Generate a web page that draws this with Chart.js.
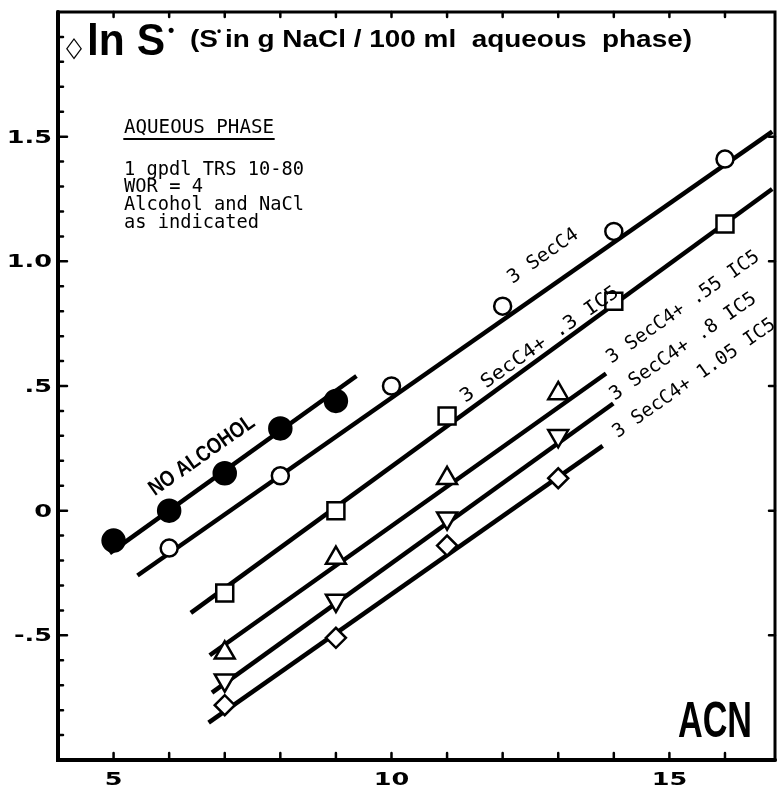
<!DOCTYPE html>
<html>
<head>
<meta charset="utf-8">
<script src="https://cdn.jsdelivr.net/npm/chart.js@4.4.1/dist/chart.umd.min.js"></script>
<style>
  html, body { margin: 0; padding: 0; background: #fff; }
  #wrap { width: 777px; height: 787px; }
</style>
</head>
<body>
<div id="wrap"><canvas id="chart" width="777" height="787"></canvas></div>
<script>
// ln S* against ACN
const acnNoAlc = [5, 6, 7, 8, 9];
const lnNoAlc = [-0.12, 0.0, 0.15, 0.33, 0.44];

const acnSec = [6, 8, 10, 12, 14, 16];
const lnSec = [-0.15, 0.14, 0.50, 0.82, 1.12, 1.41];

const acnIc03 = [7, 9, 11, 14, 16];
const lnIc03 = [-0.33, 0.0, 0.38, 0.84, 1.15];

const acnIc055 = [7, 9, 11, 13];
const lnIc055 = [-0.57, -0.19, 0.13, 0.47];

const acnIc08 = [7, 9, 11, 13];
const lnIc08 = [-0.68, -0.36, -0.03, 0.30];

const acnIc105 = [7, 9, 11, 13];
const lnIc105 = [-0.78, -0.51, -0.14, 0.13];

// fitted straight lines: [start, end]
const fitNoAlcX = [4.93, 9.37], fitNoAlcY = [-0.17, 0.54];
const fitSecX = [5.43, 16.85], fitSecY = [-0.26, 1.52];
const fitIc03X = [6.39, 16.85], fitIc03Y = [-0.41, 1.29];
const fitIc055X = [6.73, 13.86], fitIc055Y = [-0.58, 0.55];
const fitIc08X = [6.77, 13.99], fitIc08Y = [-0.73, 0.43];
const fitIc105X = [6.71, 13.8], fitIc105Y = [-0.85, 0.26];

const xTickValues = [5, 10, 15];
const yTickValues = [-0.5, 0, 0.5, 1.0, 1.5];
const yTickLabels = ['-.5', '0', '.5', '1.0', '1.5'];

const pts = (xs, ys) => xs.map((x, i) => ({ x: x, y: ys[i] }));

function markers(xs, ys, style, radius, fill, rotation) {
    return {
        type: 'scatter',
        data: pts(xs, ys),
        pointStyle: style,
        pointRadius: radius,
        pointHoverRadius: radius,
        pointRotation: rotation || 0,
        pointBackgroundColor: fill,
        pointBorderColor: '#000',
        pointBorderWidth: 2.5,
        order: 0
    };
}

function fitLine(xs, ys) {
    return {
        type: 'line',
        data: pts(xs, ys),
        borderColor: '#000',
        borderWidth: 4.5,
        pointRadius: 0,
        fill: false,
        order: 1
    };
}

// text labels along the lines, anchored in data units
const lineNotes = [
    { text: 'NO ALCOHOL', x: 6.59, y: 0.22, w: 124, font: 'bold 22px "Liberation Sans"' },
    { text: '3 SecC4', x: 12.73, y: 1.02, w: 82, font: '19px "DejaVu Sans Mono"' },
    { text: '3 SecC4+ .3 IC5', x: 12.67, y: 0.665, w: 189, font: '19px "DejaVu Sans Mono"' },
    { text: '3 SecC4+ .55 IC5', x: 15.25, y: 0.815, w: 182, font: '19px "DejaVu Sans Mono"' },
    { text: '3 SecC4+ .8 IC5', x: 15.25, y: 0.657, w: 174, font: '19px "DejaVu Sans Mono"' },
    { text: '3 SecC4+ 1.05 IC5', x: 15.45, y: 0.53, w: 194, font: '19px "DejaVu Sans Mono"' }
];

// draw text squeezed or stretched to a given width (null keeps natural width)
function fitText(ctx, text, x, y, width, font, angle) {
    ctx.save();
    ctx.font = font;
    const w = ctx.measureText(text).width;
    ctx.translate(x, y);
    if (angle) ctx.rotate(angle * Math.PI / 180);
    if (width) ctx.scale(width / w, 1);
    ctx.fillText(text, 0, 0);
    ctx.restore();
}

function stretchText(ctx, text, x, y, k, font) {
    ctx.save();
    ctx.font = font;
    ctx.translate(x, y);
    ctx.scale(k, 1);
    ctx.fillText(text, 0, 0);
    ctx.restore();
}

const framePlugin = {
    id: 'frame',
    afterDraw(chart) {
        const ctx = chart.ctx;
        const a = chart.chartArea;
        const xs = chart.scales.x, ys = chart.scales.y;
        ctx.save();
        ctx.strokeStyle = '#000';
        ctx.fillStyle = '#000';
        ctx.lineCap = 'round';

        // frame
        ctx.lineWidth = 3;
        ctx.strokeRect(a.left, a.top, a.right - a.left, a.bottom - a.top);
        ctx.lineWidth = 4;
        ctx.beginPath();
        ctx.moveTo(a.left, a.top);
        ctx.lineTo(a.left, a.bottom);
        ctx.lineTo(a.right, a.bottom);
        ctx.stroke();

        // inside ticks
        ctx.lineWidth = 2.5;
        ctx.beginPath();
        for (let v = 5; v <= 16; v++) {
            const px = xs.getPixelForValue(v);
            ctx.moveTo(px, a.bottom); ctx.lineTo(px, a.bottom - 7);
            ctx.moveTo(px, a.top); ctx.lineTo(px, a.top + 5);
        }
        for (let i = -9; i <= 19; i++) {
            const py = ys.getPixelForValue(i / 10);
            const len = i % 5 === 0 ? 9 : 5;
            ctx.moveTo(a.left, py); ctx.lineTo(a.left + len, py);
            if (i % 5 === 0) { ctx.moveTo(a.right, py); ctx.lineTo(a.right - 6, py); }
        }
        ctx.stroke();

        // tick labels, wide heavy digits
        const tickFont = 'bold 17px "DejaVu Sans"';
        ctx.textBaseline = 'alphabetic';
        xs.ticks.forEach(t => {
            ctx.font = tickFont;
            const s = String(t.value);
            const w = ctx.measureText(s).width * 1.5;
            stretchText(ctx, s, xs.getPixelForValue(t.value) - w / 2, 785, 1.5, tickFont);
        });
        ys.ticks.forEach(t => {
            ctx.font = tickFont;
            const s = yTickLabels[yTickValues.indexOf(t.value)];
            const w = ctx.measureText(s).width * 1.5;
            stretchText(ctx, s, 52 - w, ys.getPixelForValue(t.value) + 6, 1.5, tickFont);
        });

        // title
        ctx.textAlign = 'left';
        fitText(ctx, '\u25C7', 66, 56, 16, 'bold 28px "DejaVu Sans"');
        fitText(ctx, 'ln S', 87, 55, 78, 'bold 45px "Liberation Sans"');
        fitText(ctx, '\u2022', 168, 36, null, 'bold 18px "Liberation Sans"');

        const subFont = 'bold 24px "Liberation Sans"';
        ctx.font = subFont;
        const p1 = '(S', p2 = 'in g NaCl / 100 ml  aqueous  phase)';
        const w1 = ctx.measureText(p1).width, w2 = ctx.measureText(p2).width;
        const k = 502 / (w1 + w2 + 6);
        fitText(ctx, p1, 190, 47, w1 * k, subFont);
        fitText(ctx, '\u2022', 190 + w1 * k - 1, 35, null, 'bold 12px "Liberation Sans"');
        fitText(ctx, p2, 190 + (w1 + 6) * k, 47, w2 * k, subFont);

        // aqueous phase box
        const mono = '19px "DejaVu Sans Mono"';
        fitText(ctx, 'AQUEOUS PHASE', 124, 133, 150, mono);
        ctx.lineWidth = 1.8;
        ctx.beginPath();
        ctx.moveTo(124, 139); ctx.lineTo(274, 139);
        ctx.stroke();
        fitText(ctx, '1 gpdl TRS 10-80', 124, 175, 180, mono);
        fitText(ctx, 'WOR = 4', 124, 192, 79, mono);
        fitText(ctx, 'Alcohol and NaCl', 124, 210, 180, mono);
        fitText(ctx, 'as indicated', 124, 228, 135, mono);

        // axis title
        fitText(ctx, 'ACN', 678, 737, 74, 'bold 50px "Liberation Sans"');

        // line labels
        ctx.textAlign = 'center';
        ctx.textBaseline = 'middle';
        lineNotes.forEach(n => {
            fitText(ctx, n.text, xs.getPixelForValue(n.x), ys.getPixelForValue(n.y), n.w, n.font, -35);
        });
        ctx.restore();
    }
};

new Chart(document.getElementById('chart'), {
    type: 'scatter',
    data: {
        datasets: [
            markers(acnNoAlc, lnNoAlc, 'circle', 11, '#000'),
            markers(acnSec, lnSec, 'circle', 8.5, '#fff'),
            markers(acnIc03, lnIc03, 'rect', 12, '#fff'),
            markers(acnIc055, lnIc055, 'triangle', 11.5, '#fff'),
            markers(acnIc08, lnIc08, 'triangle', 11.5, '#fff', 180),
            markers(acnIc105, lnIc105, 'rectRot', 10, '#fff'),
            fitLine(fitNoAlcX, fitNoAlcY),
            fitLine(fitSecX, fitSecY),
            fitLine(fitIc03X, fitIc03Y),
            fitLine(fitIc055X, fitIc055Y),
            fitLine(fitIc08X, fitIc08Y),
            fitLine(fitIc105X, fitIc105Y)
        ]
    },
    options: {
        responsive: false,
        animation: false,
        layout: { autoPadding: false, padding: { top: 12, right: 2, left: 0, bottom: 0 } },
        plugins: {
            legend: { display: false },
            tooltip: { enabled: false }
        },
        scales: {
            x: {
                type: 'linear',
                min: 4,
                max: 16.9,
                afterBuildTicks: s => { s.ticks = xTickValues.map(v => ({ value: v })); },
                afterFit: s => { s.height = 27; },
                grid: { display: false, drawTicks: false },
                border: { display: false },
                ticks: { display: false }
            },
            y: {
                type: 'linear',
                min: -1,
                max: 2,
                afterBuildTicks: s => { s.ticks = yTickValues.map(v => ({ value: v })); },
                afterFit: s => { s.width = 58; },
                grid: { display: false, drawTicks: false },
                border: { display: false },
                ticks: { display: false }
            }
        }
    },
    plugins: [framePlugin]
});
</script>
</body>
</html>
